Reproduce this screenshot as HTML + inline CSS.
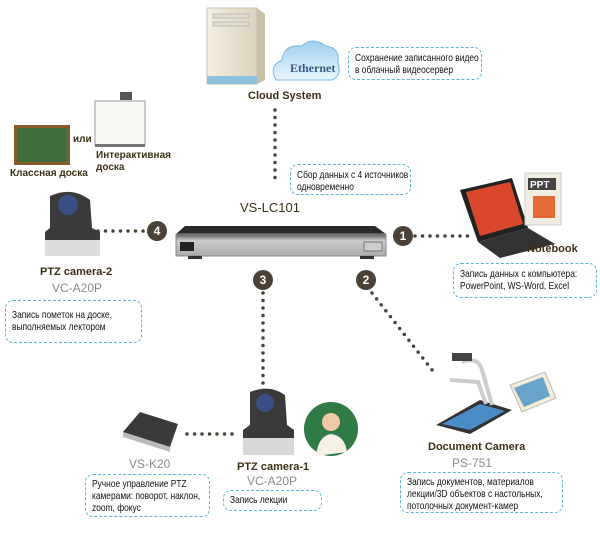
<!DOCTYPE html>
<html><head><meta charset="utf-8"><style>
body{margin:0;width:600px;height:536px;background:#fff;position:relative;overflow:hidden;font-family:"Liberation Sans","DejaVu Sans",sans-serif}
.t{position:absolute;white-space:nowrap}
.lb{font-weight:bold;font-size:11px;color:#3b3016}
.md{font-size:12px;color:#8a8a8a}
.bx{position:absolute;border:1.5px dashed #5ab4d8;border-radius:8px;font-size:10.5px;line-height:12px;color:#111;padding:4px 6px;box-sizing:border-box;white-space:nowrap}
.bx span{display:inline-block;transform:scaleX(.8);transform-origin:0 0}
.c{position:absolute;width:20px;height:20px;border-radius:50%;background:#4a4237;color:#fff;font-weight:bold;font-size:12px;text-align:center;line-height:20px}
</style></head><body>
<svg width="600" height="536" style="position:absolute;left:0;top:0">
<defs>
<linearGradient id="tw" x1="0" x2="1"><stop offset="0" stop-color="#f4f0e2"/><stop offset="1" stop-color="#d9d2bd"/></linearGradient>
<linearGradient id="cl" x1="0" y1="0" x2="0" y2="1"><stop offset="0" stop-color="#9fd0ef"/><stop offset="1" stop-color="#e8f5fc"/></linearGradient>
<linearGradient id="dv" x1="0" y1="0" x2="0" y2="1"><stop offset="0" stop-color="#555"/><stop offset=".3" stop-color="#ccc"/><stop offset="1" stop-color="#aaa"/></linearGradient>
</defs>
<rect x="207" y="8" width="50" height="76" fill="url(#tw)" stroke="#c8c0a8"/>
<polygon points="257,8 265,14 265,80 257,84" fill="#c8bfa6"/>
<rect x="213" y="14" width="36" height="4" fill="#e2dccb" stroke="#bbb"/>
<rect x="213" y="22" width="36" height="4" fill="#e2dccb" stroke="#bbb"/>
<rect x="207" y="76" width="50" height="8" fill="#8fc1df"/>
<path d="M276,80 Q268,66 282,60 Q284,44 302,46 Q312,36 326,46 Q340,48 338,62 Q342,76 332,80 Z" fill="url(#cl)" stroke="#7db8de"/>
<text x="290" y="72" font-family="Liberation Serif" font-size="12" font-weight="bold" fill="#3a5a86">Ethernet</text>
<rect x="14" y="125" width="56" height="40" fill="#8b5a2b"/>
<rect x="17" y="128" width="50" height="34" fill="#3f6e3c"/>
<rect x="95" y="101" width="50" height="44" fill="#f6f6f2" stroke="#9a9a9a"/>
<rect x="120" y="92" width="12" height="8" fill="#555"/>
<rect x="95" y="144" width="50" height="3" fill="#777"/>
<polygon points="185,226 375,226 386,234 176,234" fill="#2a2a2a"/>
<rect x="176" y="234" width="210" height="22" fill="url(#dv)" stroke="#888"/>
<rect x="180" y="242" width="14" height="9" fill="#222"/>
<rect x="364" y="242" width="18" height="9" fill="#ccc" stroke="#777"/>
<rect x="188" y="256" width="14" height="3" fill="#333"/><rect x="360" y="256" width="14" height="3" fill="#333"/>
<g stroke="#4a4237" stroke-width="3.5" stroke-linecap="round" stroke-dasharray="0 7.5" fill="none">
<line x1="275" y1="110" x2="275" y2="183"/>
<line x1="98" y1="231" x2="146" y2="231"/>
<line x1="415" y1="236" x2="472" y2="236"/>
<line x1="263" y1="293" x2="263" y2="392"/>
<line x1="372" y1="293" x2="436" y2="375"/>
<line x1="187" y1="434" x2="237" y2="434"/>
</g>
<polygon points="460,190 512,178 528,228 478,242" fill="#222"/>
<polygon points="466,192 510,182 523,224 480,236" fill="#d9472c"/>
<polygon points="478,242 528,228 555,244 500,258" fill="#333"/>
<rect x="525" y="173" width="36" height="52" fill="#f1ede3" stroke="#ccc"/>
<rect x="528" y="178" width="28" height="12" fill="#444"/>
<text x="530" y="188" font-size="10" fill="#fff" font-weight="bold">PPT</text>
<rect x="533" y="196" width="22" height="22" fill="#e56a3a"/>
<path d="M50,196 Q72,186 90,200 L92,228 L100,232 L100,256 L45,256 L45,232 L50,228 Z" fill="#3a3a3a"/>
<circle cx="68" cy="205" r="10" fill="#3a4f86"/>
<rect x="45" y="240" width="55" height="16" fill="#ddd"/>
<path d="M250,392 Q270,384 285,395 L287,425 L294,430 L294,455 L243,455 L243,430 L250,425 Z" fill="#3a3a3a"/>
<circle cx="265" cy="403" r="9" fill="#3a4f86"/>
<rect x="243" y="438" width="51" height="17" fill="#d8d8d8"/>
<circle cx="331" cy="429" r="27" fill="#2f7a45"/>
<circle cx="331" cy="422" r="9" fill="#f0c8a8"/>
<path d="M316,456 Q318,436 331,434 Q345,436 347,452 Z" fill="#f6f0e6"/>
<polygon points="123,432 140,412 178,424 170,447" fill="#3a3a3a"/>
<polygon points="123,432 170,447 170,452 123,437" fill="#bbb"/>
<polygon points="436,425 480,400 512,410 470,434" fill="#333"/>
<polygon points="442,424 480,404 505,411 470,430" fill="#4c8cc6"/>
<path d="M462,362 Q478,356 482,370 L492,405" stroke="#ccc" stroke-width="4" fill="none"/>
<rect x="452" y="353" width="20" height="8" fill="#444"/>
<path d="M450,380 L478,382 L486,404" stroke="#ccc" stroke-width="4" fill="none"/>
<polygon points="510,385 545,372 556,398 522,412" fill="#f2ecd8" stroke="#bbb"/>
<polygon points="514,388 543,377 550,396 524,407" fill="#6aa3c9"/>
</svg>

<div class="t lb" style="left:248px;top:90px;font-size:11px">Cloud System</div>
<div class="bx" style="left:348px;top:47px;width:134px;height:33px"><span>Сохранение записанного видео<br>в облачный видеосервер</span></div>
<div class="bx" style="left:290px;top:164px;width:121px;height:31px"><span>Сбор данных с 4 источников<br>одновременно</span></div>
<div class="t lb" style="left:73px;top:134px;font-size:10px">или</div>
<div class="t lb" style="left:96px;top:150px;font-size:10px;line-height:12px">Интерактивная<br>доска</div>
<div class="t lb" style="left:10px;top:168px;font-size:10px">Классная доска</div>
<div class="t" style="left:240px;top:200px;font-size:13px;color:#3b3016">VS-LC101</div>
<div class="c" style="left:147px;top:221px">4</div>
<div class="c" style="left:393px;top:226px">1</div>
<div class="c" style="left:253px;top:270px">3</div>
<div class="c" style="left:356px;top:270px">2</div>
<div class="t lb" style="left:527px;top:243px">Notebook</div>
<div class="bx" style="left:453px;top:263px;width:144px;height:35px"><span>Запись данных с компьютера:<br>PowerPoint, WS-Word, Excel</span></div>
<div class="t lb" style="left:40px;top:266px">PTZ camera-2</div>
<div class="t md" style="left:52px;top:281px">VC-A20P</div>
<div class="bx" style="left:5px;top:300px;width:137px;height:43px;padding-top:8px"><span>Запись пометок на доске,<br>выполняемых лектором</span></div>
<div class="t lb" style="left:428px;top:441px">Document Camera</div>
<div class="t md" style="left:452px;top:456px">PS-751</div>
<div class="bx" style="left:400px;top:472px;width:163px;height:41px;padding-top:3px"><span>Запись документов, материалов<br>лекции/3D объектов с настольных,<br>потолочных документ-камер</span></div>
<div class="t md" style="left:129px;top:457px">VS-K20</div>
<div class="bx" style="left:85px;top:474px;width:125px;height:43px;padding-top:3px"><span>Ручное управление PTZ<br>камерами: поворот, наклон,<br>zoom, фокус</span></div>
<div class="t lb" style="left:237px;top:461px">PTZ camera-1</div>
<div class="t md" style="left:247px;top:474px">VC-A20P</div>
<div class="bx" style="left:223px;top:490px;width:99px;height:21px;padding-top:3px"><span>Запись лекции</span></div>
</body></html>
